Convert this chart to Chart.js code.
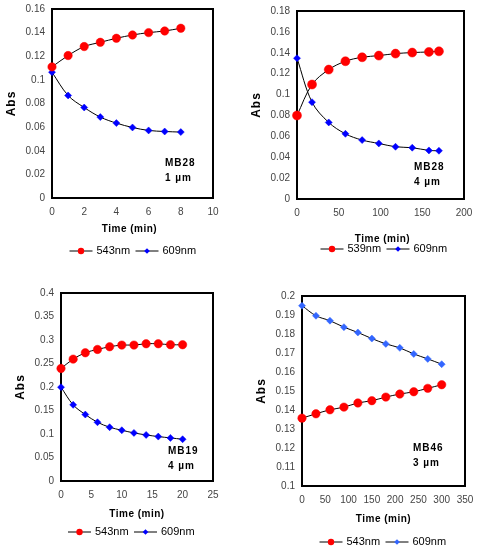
<!DOCTYPE html>
<html><head><meta charset="utf-8">
<script src="https://cdn.jsdelivr.net/npm/chart.js@4"></script>
<style>
html,body{margin:0;padding:0;background:#fff;}
body{width:477px;height:550px;position:relative;overflow:hidden;}
.p{position:absolute;}
</style></head><body>
<div class="p" style="left:0;top:0;width:238px;height:262px"><canvas id="c1"></canvas></div>
<div class="p" style="left:238px;top:0;width:239px;height:262px"><canvas id="c2"></canvas></div>
<div class="p" style="left:0;top:275px;width:238px;height:275px"><canvas id="c3"></canvas></div>
<div class="p" style="left:238px;top:275px;width:239px;height:275px"><canvas id="c4"></canvas></div>
<script>
// ---- Panel 1: MB28, 1 µm ----
const p1Time = [0,1,2,3,4,5,6,7,8];
const p1Red  = [0.111,0.1206,0.1282,0.1318,0.1352,0.138,0.140,0.1414,0.1437];
const p1Blue = [0.1065,0.0868,0.0766,0.0685,0.0634,0.0597,0.0572,0.0563,0.0558];
const p1Labels = ['543nm','609nm'];
const p1Note = ['MB28','1 µm'];

// ---- Panel 2: MB28, 4 µm ----
const p2Time = [0,18,38,58,78,98,118,138,158,170];
const p2Red  = [0.080,0.1096,0.1239,0.1319,0.1357,0.1373,0.1392,0.1402,0.1408,0.1414];
const p2Blue = [0.1348,0.0927,0.0733,0.0624,0.0564,0.0532,0.0500,0.0491,0.0465,0.0462];
const p2Labels = ['539nm','609nm'];
const p2Note = ['MB28','4 µm'];

// ---- Panel 3: MB19, 4 µm ----
const p3Time = [0,2,4,6,8,10,12,14,16,18,20];
const p3Red  = [0.2394,0.2593,0.2728,0.2799,0.2856,0.2892,0.2892,0.292,0.292,0.2899,0.2899];
const p3Blue = [0.1996,0.162,0.1414,0.125,0.1144,0.108,0.1023,0.098,0.0945,0.0917,0.0888];
const p3Labels = ['543nm','609nm'];
const p3Note = ['MB19','4 µm'];

// ---- Panel 4: MB46, 3 µm ----
const p4Time = [0,30,60,90,120,150,180,210,240,270,300];
const p4Red  = [0.1357,0.138,0.1401,0.1415,0.1437,0.1449,0.1468,0.1484,0.1496,0.1514,0.1533];
const p4Blue = [0.1949,0.1896,0.187,0.1836,0.1808,0.1776,0.1748,0.1727,0.1695,0.1669,0.1641];
const p4Labels = ['543nm','609nm'];
const p4Note = ['MB46','3 µm'];

const xTitle = 'Time (min)';
const yTitle = 'Abs';

function pts(t, v){ return t.map((x,i)=>({x:x, y:v[i]})); }

const decor = {
  id:'decor',
  beforeDatasetsDraw(chart){
    const a = chart.chartArea, ctx = chart.ctx;
    ctx.save();
    ctx.strokeStyle = '#000'; ctx.lineWidth = 2;
    ctx.strokeRect(a.left, a.top, a.right-a.left, a.bottom-a.top);
    ctx.restore();
  },
  afterDraw(chart){
    const o = chart.options.plugins.decor, a = chart.chartArea, ctx = chart.ctx;
    const cx = (a.left + a.right)/2;
    ctx.save();
    ctx.fillStyle = '#000';
    ctx.font = 'bold 12px "Liberation Sans", Arial, sans-serif';
    ctx.textAlign = 'center'; ctx.textBaseline = 'middle';
    ctx.letterSpacing = '1px';
    ctx.translate(a.left - 40, (a.top + a.bottom)/2);
    ctx.rotate(-Math.PI/2);
    ctx.fillText(o.yTitle, 0, 0);
    ctx.setTransform(chart.currentDevicePixelRatio,0,0,chart.currentDevicePixelRatio,0,0);
    ctx.font = 'bold 10px "Liberation Sans", Arial, sans-serif';
    ctx.letterSpacing = '0.5px';
    ctx.fillText(o.xTitle, cx + o.xtDx, a.bottom + o.xtDy);
    ctx.textAlign = 'left';
    ctx.letterSpacing = '1px';
    ctx.fillText(o.note[0], a.right + o.noteDx, a.bottom + o.noteDy);
    ctx.fillText(o.note[1], a.right + o.noteDx, a.bottom + o.noteDy + 15);
    ctx.letterSpacing = '0px';
    ctx.font = '11px "Liberation Sans", Arial, sans-serif';
    const ly = a.bottom + o.legDy;
    let x = cx + o.legDx - 64;
    chart.data.datasets.forEach((ds) => {
      ctx.strokeStyle = '#000'; ctx.lineWidth = 1;
      ctx.beginPath(); ctx.moveTo(x, ly); ctx.lineTo(x+23, ly); ctx.stroke();
      ctx.fillStyle = ds.pointBackgroundColor;
      ctx.beginPath();
      if (ds.pointStyle === 'circle') { ctx.arc(x+11.5, ly, 3.2, 0, Math.PI*2); }
      else { const r = 2.8; ctx.moveTo(x+11.5-r, ly); ctx.lineTo(x+11.5, ly-r); ctx.lineTo(x+11.5+r, ly); ctx.lineTo(x+11.5, ly+r); ctx.closePath(); }
      ctx.fill();
      ctx.fillStyle = '#000';
      ctx.textBaseline = 'middle';
      ctx.fillText(ds.label, x + 27, ly);
      x += 66;
    });
    ctx.restore();
  }
};

function makeChart(id, cfg){
  const el = document.getElementById(id);
  const W = el.parentNode.clientWidth, H = el.parentNode.clientHeight;
  const fmt = v => String(+Number(v).toFixed(4));
  const tickFont = {family:'"Liberation Sans", Arial, sans-serif', size:10};
  const fit = { yw: cfg.area[0], xh: H - cfg.area[3] };
  const chart = new Chart(el, {
    type:'line',
    data:{ datasets:[
      { label:cfg.labels[0], data:pts(cfg.t, cfg.red), borderColor:'#000', borderWidth:1, tension:0.35,
        pointStyle:'circle', pointRadius:cfg.rr, pointBackgroundColor:'#ff0000', pointBorderColor:'#ff0000', pointBorderWidth:0.5, clip:false },
      { label:cfg.labels[1], data:pts(cfg.t, cfg.blue), borderColor:'#000', borderWidth:1, tension:0.35,
        pointStyle:'rectRot', pointRadius:cfg.br, pointBackgroundColor:cfg.blueColor, pointBorderColor:cfg.blueColor, pointBorderWidth:0.5, clip:false }
    ]},
    options:{
      responsive:true, maintainAspectRatio:false, animation:false, devicePixelRatio:1,
      layout:{ padding:{ left:0, top:cfg.area[1], right:W - cfg.area[2], bottom:0 } },
      plugins:{ legend:{display:false}, tooltip:{enabled:false},
        decor:{ yTitle:yTitle, xTitle:xTitle, note:cfg.note, xtDx:cfg.xtDx, xtDy:cfg.xtDy,
                noteDx:cfg.noteDx, noteDy:cfg.noteDy, legDx:cfg.legDx, legDy:cfg.legDy } },
      scales:{
        x:{ type:'linear', min:cfg.xr[0], max:cfg.xr[1],
            ticks:{ stepSize:cfg.xr[2], color:'#444', font:tickFont, padding:8, maxRotation:0, callback:fmt },
            grid:{display:false, drawTicks:false}, border:{display:false},
            afterFit(s){ s.height = fit.xh; s.paddingLeft = 0; s.paddingRight = 0; } },
        y:{ min:cfg.yr[0], max:cfg.yr[1],
            ticks:{ stepSize:cfg.yr[2], color:'#444', font:tickFont, padding:7, callback:fmt },
            grid:{display:false, drawTicks:false}, border:{display:false},
            afterFit(s){ s.width = fit.yw; s.paddingTop = 0; s.paddingBottom = 0; } }
      }
    },
    plugins:[decor]
  });
  for (let k = 0; k < 4; k++) {
    const a = chart.chartArea, p = chart.options.layout.padding;
    const dl = cfg.area[0] - a.left, dt = cfg.area[1] - a.top, dr = cfg.area[2] - a.right, db = cfg.area[3] - a.bottom;
    if (Math.abs(dl)+Math.abs(dt)+Math.abs(dr)+Math.abs(db) < 0.5) break;
    fit.yw += dl; p.top += dt; p.right -= dr; fit.xh -= db;
    chart.update();
  }
  return chart;
}

makeChart('c1', { t:p1Time, red:p1Red, blue:p1Blue, labels:p1Labels, note:p1Note, blueColor:'#0000ff',
  xr:[0,10,2], yr:[0,0.16,0.02], area:[52,9,213,198], rr:4.2, br:3.5,
  xtDx:-3, xtDy:31, noteDx:-48, noteDy:-35, legDx:1, legDy:53 });
makeChart('c2', { t:p2Time, red:p2Red, blue:p2Blue, labels:p2Labels, note:p2Note, blueColor:'#0000ff',
  xr:[0,200,50], yr:[0,0.18,0.02], area:[59,11,226,199], rr:4.5, br:3.5,
  xtDx:2, xtDy:40, noteDx:-50, noteDy:-32, legDx:4, legDy:50 });
makeChart('c3', { t:p3Time, red:p3Red, blue:p3Blue, labels:p3Labels, note:p3Note, blueColor:'#0000ff',
  xr:[0,25,5], yr:[0,0.4,0.05], area:[61,18,213,206], rr:4.2, br:3.5,
  xtDx:0, xtDy:33, noteDx:-45, noteDy:-30, legDx:-5, legDy:51 });
makeChart('c4', { t:p4Time, red:p4Red, blue:p4Blue, labels:p4Labels, note:p4Note, blueColor:'#3366ff',
  xr:[0,350,50], yr:[0.1,0.2,0.01], area:[64,21,227,211], rr:4.2, br:3.5,
  xtDx:0, xtDy:33, noteDx:-52, noteDy:-38, legDx:0, legDy:56 });
</script>
</body></html>
